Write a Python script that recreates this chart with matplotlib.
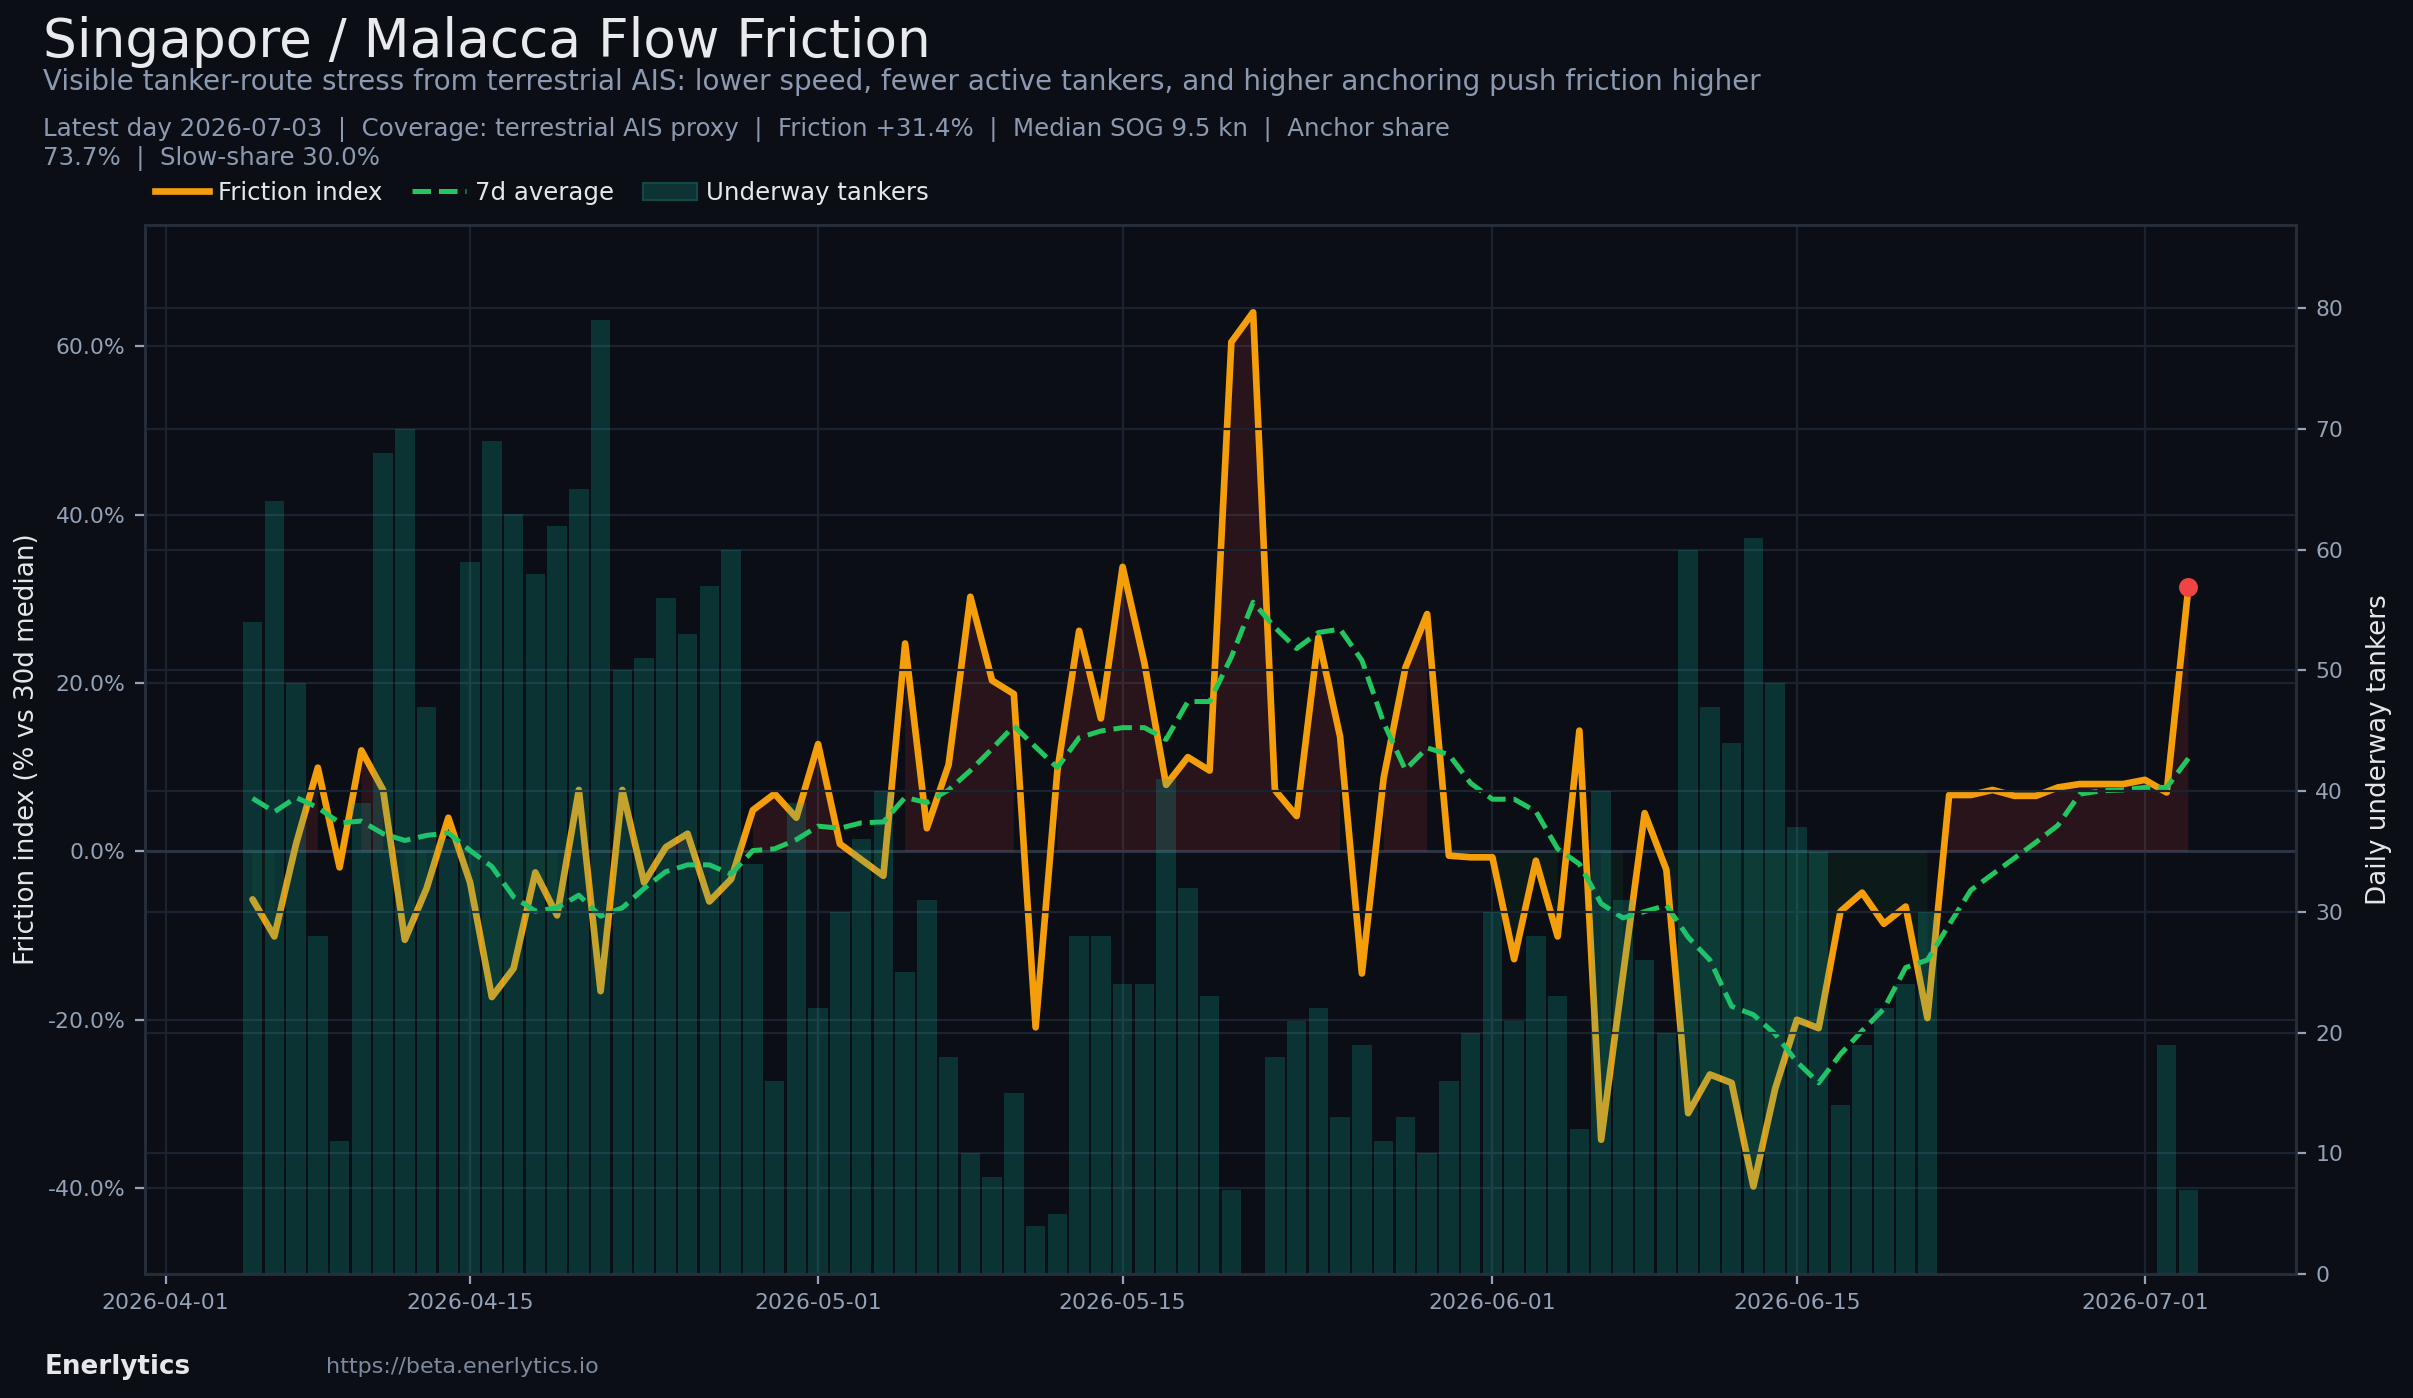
import numpy as np
import pandas as pd
import matplotlib
matplotlib.use("Agg")
import matplotlib.pyplot as plt
import matplotlib.dates as mdates
from matplotlib.lines import Line2D
from matplotlib.patches import Patch
from matplotlib.ticker import FuncFormatter

# ---------------- data ----------------
start_date = "2026-04-05"
end_date = "2026-07-03"

friction_pct = [
    -5.7, -10.1, 0.9, 9.95, -1.9, 12.0, 7.3, -10.5, -4.4, 4.0, -3.7, -17.3, -13.9, -2.5, -7.6, 7.3, -16.6, 7.3, -3.7, 0.5, 2.1,
    -5.95, -3.3, 4.9, 6.85, 4.0, 12.75, 0.9, -1.0, -2.9, 24.7, 2.75, 10.3, 30.25, 20.3, 18.7, -20.9, 9.6, 26.2, 15.8, 33.8, 22.4,
    7.9, 11.2, 9.6, 60.5, 64.05, 7.3, 4.2, 25.4, 13.6, -14.5, 8.7, 21.8, 28.2, -0.5, -0.7, -0.7, -12.8, -1.1, -10.1, 14.35, -34.25,
    -14.8, 4.55, -2.2, -31.1, -26.5, -27.5, -39.8, -28.2, -20.0, -21.0, -7.15, -4.9, -8.6, -6.55, -19.8,
    6.7, 6.7, 7.3, 6.6, 6.6, 7.6, 8.0, 8.0, 8.0, 8.5, 7.0, 31.4,
]

avg7_pct = [
    6.3, 4.7, 6.4, 5.2, 3.4, 3.6, 2.1, 1.3, 1.9, 2.2, 0.1, -1.8, -5.4, -7.1, -6.7, -5.2, -7.7, -6.7, -4.4, -2.4, -1.6,
    -1.6, -2.7, 0.1, 0.3, 1.4, 3.0, 2.75, 3.4, 3.5, 6.4, 5.8, 7.3, 9.6, 12.2, 14.9, 12.4, 9.95, 13.5, 14.3, 14.7, 14.7,
    13.3, 17.8, 17.8, 23.1, 29.6, 26.6, 24.1, 26.0, 26.4, 22.7, 15.3, 9.7, 12.3, 11.5, 8.1, 6.2, 6.2, 4.75, 0.3, -1.5, -6.2,
    -7.9, -7.15, -6.4, -10.2, -12.9, -18.4, -19.4, -21.7, -25.0, -27.5, -24.1, -21.3, -18.7, -13.8, -12.9,
    -8.7, -4.6, -2.7, -0.8, 1.1, 3.1, 6.8, 7.2, 7.3, 7.6, 7.6, 11.05,
]

underway_tankers = [
    54, 64, 49, 28, 11, 39, 68, 70, 47, 36, 59, 69, 63, 58, 62, 65, 79, 50, 51, 56, 53,
    57, 60, 34, 16, 39, 22, 30, 36, 40, 25, 31, 18, 10, 8, 15, 4, 5, 28, 28, 24, 24,
    41, 32, 23, 7, 0, 18, 21, 22, 13, 19, 11, 13, 10, 16, 20, 30, 21, 28, 23, 12, 40,
    31, 26, 20, 60, 47, 44, 61, 49, 37, 35, 14, 19, 22, 24, 30,
    0, 0, 0, 0, 0, 0, 0, 0, 0, 0, 19, 7,
]

y_left_ticks = [-40, -20, 0, 20, 40, 60]
y_right_ticks = [0, 10, 20, 30, 40, 50, 60, 70, 80]

title = "Singapore / Malacca Flow Friction"
subtitle = ("Visible tanker-route stress from terrestrial AIS: lower speed, fewer active tankers, "
            "and higher anchoring push friction higher")
info_line1 = ("Latest day 2026-07-03  |  Coverage: terrestrial AIS proxy  |  Friction +31.4%  |  "
              "Median SOG 9.5 kn  |  Anchor share")
info_line2 = "73.7%  |  Slow-share 30.0%"

# ---------------- style ----------------
BG = "#0b0e14"
ORANGE = "#f59e0b"
GREEN = "#22c55e"
RED = "#ef4444"
TEAL = "#14b8a6"
GRID = "#1c2330"
TICK = "#94a3b8"
SUB = "#8b9ab0"
LIGHT = "#e5e7eb"

dates = pd.date_range(start_date, end_date, freq="D")
x = mdates.date2num(dates.to_pydatetime())
fr = np.array(friction_pct)
av = np.array(avg7_pct)
ut = np.array(underway_tankers)

fig = plt.figure(figsize=(12.065, 6.99), dpi=200, facecolor=BG)
ax1 = fig.add_axes([0.0601, 0.0887, 0.8914, 0.7503])
ax1.set_facecolor(BG)
ax2 = ax1.twinx()
ax2.patch.set_alpha(0)

bar_w = 0.9
x0 = x[0] - bar_w / 2
x1 = x[-1] + bar_w / 2
pad = 0.05 * (x1 - x0)

# left axis content
ax1.axhline(0, color="#2b3444", lw=1.1, zorder=1)
ax1.fill_between(x, fr, 0, where=fr >= 0, color=RED, alpha=0.13, lw=0, zorder=2)
ax1.fill_between(x, fr, 0, where=fr < 0, color=GREEN, alpha=0.07, lw=0, zorder=2)
ax1.plot(x, fr, color=ORANGE, lw=2.4, zorder=4, solid_capstyle="round", solid_joinstyle="round")
ax1.plot(x, av, color=GREEN, lw=1.8, ls="--", zorder=5)
ax1.plot(x[-1:], fr[-1:], "o", color=RED, ms=5.8, zorder=6)

# right axis bars
ax2.bar(x, ut, width=bar_w, color=TEAL, alpha=0.22, lw=0, zorder=2)

ax1.set_xlim(x0 - pad, x1 + pad)
ax1.set_ylim(-50.2, 74.4)
ax2.set_ylim(0, ut.max() * 1.1)

ax1.set_yticks(y_left_ticks)
ax1.yaxis.set_major_formatter(FuncFormatter(lambda v, p: f"{v:.1f}%"))
ax2.set_yticks(y_right_ticks)

ax1.xaxis.set_major_locator(mdates.DayLocator(bymonthday=[1, 15]))
ax1.xaxis.set_major_formatter(mdates.DateFormatter("%Y-%m-%d"))

for ax in (ax1, ax2):
    ax.tick_params(colors=TICK, labelsize=7.9, width=0.8, length=3.5)
    for s in ax.spines.values():
        s.set_color("#262e3b")
        s.set_linewidth(0.9)

ax1.grid(True, color=GRID, lw=0.8)
ax1.set_axisbelow(True)
ax2.grid(True, axis="y", color=GRID, lw=0.8)

ax1.set_ylabel("Friction index (% vs 30d median)", fontsize=9.4, color=LIGHT)
ax1.yaxis.set_label_coords(-0.0488, 0.5)
ax2.set_ylabel("Daily underway tankers", fontsize=9.4, color=LIGHT)
ax2.yaxis.set_label_coords(1.0325, 0.5)

# texts
fig.text(0.0178, 0.9592, title, fontsize=19.2, color="#e8eaee", va="baseline")
fig.text(0.0178, 0.9356, subtitle, fontsize=10.0, color=SUB, va="baseline")
fig.text(0.0178, 0.9027, info_line1, fontsize=8.83, color=SUB, va="baseline")
fig.text(0.0178, 0.8820, info_line2, fontsize=8.83, color=SUB, va="baseline")

handles = [
    Line2D([], [], color=ORANGE, lw=2.4),
    Line2D([], [], color=GREEN, lw=1.8, ls="--"),
    Patch(facecolor="#0d3334", edgecolor="#134846", lw=0.8),
]
labels = ["Friction index", "7d average", "Underway tankers"]
leg = fig.legend(handles, labels, loc="center left", bbox_to_anchor=(0.0552, 0.862), ncol=3,
                 frameon=False, fontsize=8.8, handlelength=2.2, handletextpad=0.38, columnspacing=1.2)
for t in leg.get_texts():
    t.set_color(LIGHT)

fig.text(0.0185, 0.0222, "Enerlytics", fontsize=9.4, fontweight="bold", color=LIGHT, va="center")
fig.text(0.1351, 0.0222, "https://beta.enerlytics.io", fontsize=8, color="#7c8aa0", va="center")

fig.savefig("out.png", dpi=200, facecolor=BG)
